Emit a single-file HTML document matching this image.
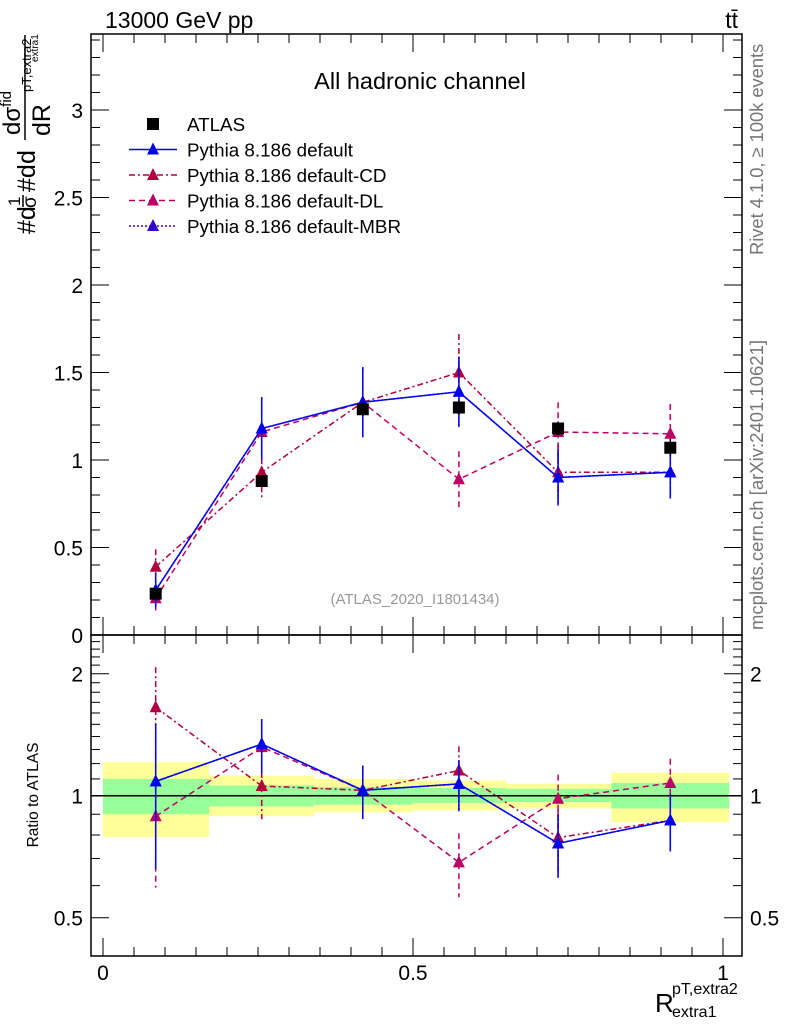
<!DOCTYPE html>
<html><head><meta charset="utf-8"><style>
body{margin:0;background:#fff;}
svg{display:block;font-family:"Liberation Sans",Arial,sans-serif;}
</style></head><body>
<svg id="c" width="786" height="1024" viewBox="0 0 786 1024">
<rect width="786" height="1024" fill="#fff"/>
<text x="105" y="28" font-size="23">13000 GeV pp</text>
<text x="738" y="28" font-size="23" text-anchor="end">tt̄</text>
<text x="420" y="89" font-size="23.5" text-anchor="middle">All hadronic channel</text>
<text x="415" y="604" font-size="15" fill="#999" text-anchor="middle">(ATLAS_2020_I1801434)</text>
<text transform="translate(763,255) rotate(-90)" font-size="18.3" fill="#777">Rivet 4.1.0, ≥ 100k events</text>
<text transform="translate(763,630) rotate(-90)" font-size="18.5" fill="#777">mcplots.cern.ch [arXiv:2401.10621]</text>
<g transform="rotate(-90)">
<text x="-234" y="35" font-size="25">#d</text>
<text x="-206" y="20" font-size="17">1</text>
<line x1="-207" y1="23" x2="-195" y2="23" stroke="#000" stroke-width="1.5"/>
<text x="-208" y="36" font-size="19">σ</text>
<text x="-192" y="35" font-size="25">#d</text>
<text x="-164" y="35" font-size="25">d</text>
<line x1="-140" y1="25" x2="-35" y2="25" stroke="#000" stroke-width="1.5"/>
<text x="-135" y="20" font-size="24">dσ<tspan font-size="15" dy="-9">fid</tspan></text>
<text x="-136" y="50" font-size="25">dR</text>
<text x="-92" y="31" font-size="13">pT,extra2</text>
<text x="-62" y="38" font-size="10">extra1</text>
</g>
<text x="38" y="795" font-size="15.5" text-anchor="middle" transform="rotate(-90 38 795)">Ratio to ATLAS</text>
<g>
<text x="655" y="1012" font-size="26">R</text>
<text x="672" y="994" font-size="16">pT,extra2</text>
<text x="672" y="1017" font-size="16">extra1</text>
</g>
<g id="g"></g>
</svg>
<script>
const xCenters=[0.085,0.256,0.419,0.574,0.734,0.915];
const binEdges=[0,0.171,0.34,0.5,0.65,0.82,1.01];
const atlas=[0.236,0.88,1.29,1.30,1.18,1.07];
const atlasErr=[0.02,0.03,0.04,0.04,0.04,0.05];
const defVals=[0.256,1.18,1.33,1.39,0.90,0.93];
const defErr=[0.1,0.18,0.2,0.2,0.16,0.15];
const cdVals=[0.39,0.93,1.33,1.50,0.93,0.93];
const cdErr=[0.1,0.16,0.2,0.22,0.16,0.15];
const dlVals=[0.21,1.16,1.33,0.89,1.16,1.15];
const dlErr=[0.07,0.18,0.2,0.16,0.17,0.17];
const mbrVals=[0.256,1.18,1.33,1.39,0.90,0.93];
const mbrErr=[0.1,0.18,0.2,0.2,0.16,0.15];
const yellowHi=[1.21,1.12,1.10,1.09,1.07,1.14];
const yellowLo=[0.79,0.89,0.91,0.92,0.93,0.86];
const greenHi=[1.10,1.06,1.05,1.045,1.04,1.075];
const greenLo=[0.90,0.94,0.95,0.96,0.965,0.93];
const mainTicks=[0,0.5,1,1.5,2,2.5,3];
const mainTickLabels=["0","0.5","1","1.5","2","2.5","3"];
const ratioTicks=[0.5,1,2];
const ratioTickLabels=["0.5","1","2"];
const xTicks=[0,0.5,1];
const xTickLabels=["0","0.5","1"];

const L=91,R=742,T=34,M=635,B=956;
const X=v=>103+v*620;
const Y=v=>635-v*175;
const YR=r=>795.7-Math.log2(r)*122;
const NS="http://www.w3.org/2000/svg";
const g=document.getElementById('g');
function el(t,a,p){const e=document.createElementNS(NS,t);for(const k in a)e.setAttribute(k,a[k]);(p||g).appendChild(e);return e;}

for(let i=0;i<6;i++){
 const x0=X(binEdges[i]),x1=X(binEdges[i+1]);
 const y=el('rect',{x:x0,y:YR(yellowHi[i]),width:x1-x0,height:YR(yellowLo[i])-YR(yellowHi[i]),fill:'#ffff99'});
 
 
 const gr=el('rect',{x:x0,y:YR(greenHi[i]),width:x1-x0,height:YR(greenLo[i])-YR(greenHi[i]),fill:'#99ff99'});
 
 
}
el('line',{x1:L,y1:YR(1),x2:R,y2:YR(1),stroke:'#000','stroke-width':1.5});

const f1=el('rect',{x:L,y:T,width:R-L,height:M-T,fill:'none',stroke:'#000','stroke-width':1.5});


const f2=el('rect',{x:L,y:M,width:R-L,height:B-M,fill:'none',stroke:'#000','stroke-width':1.5});



for(let v=0;v<=3.42;v+=0.1){const y=Y(v);if(y<T)break;const maj=Math.abs(v*2-Math.round(v*2))<1e-6;const len=maj?18:9;
 el('line',{x1:L,y1:y,x2:L+len,y2:y,stroke:'#000'});el('line',{x1:R,y1:y,x2:R-len,y2:y,stroke:'#000'});}
mainTicks.forEach((v,i)=>{const t=el('text',{x:L-8,y:Y(v)+8,'font-size':21,'text-anchor':'end'});t.textContent=mainTickLabels[i];
 
 });
for(let k=4;k<=25;k++){const r=k/10;const y=YR(r);if(y<M||y>B)continue;const maj=(k==5||k==10||k==20);const len=maj?18:9;
 el('line',{x1:L,y1:y,x2:L+len,y2:y,stroke:'#000'});el('line',{x1:R,y1:y,x2:R-len,y2:y,stroke:'#000'});}
ratioTicks.forEach((v,i)=>{const t=el('text',{x:L-8,y:YR(v)+8,'font-size':21,'text-anchor':'end'});t.textContent=ratioTickLabels[i];
 
 
 const t2=el('text',{x:R+8,y:YR(v)+8,'font-size':21});t2.textContent=ratioTickLabels[i];
 
 });
for(let k=0;k<=20;k++){const x=X(k*0.05);const maj=k%10==0;const len=maj?18:9;
 [[T,1],[M,-1],[M,1],[B,-1]].forEach(([y0,d])=>el('line',{x1:x,y1:y0,x2:x,y2:y0+d*len,stroke:'#000'}));}
xTicks.forEach((v,i)=>{const t=el('text',{x:X(v),y:980,'font-size':21,'text-anchor':'middle'});t.textContent=xTickLabels[i];
 
 });

function tri(x,y,c,name){const p=el('path',{d:`M${x-6},${y+5}L${x+6},${y+5}L${x},${y-7}Z`,fill:c});
 
 }
function series(vals,errs,c,dash,name){
 const ptsM=vals.map((v,i)=>[X(xCenters[i]),Y(v)]);
 const ptsR=vals.map((v,i)=>[X(xCenters[i]),YR(v/atlas[i])]);
 const lm=el('polyline',{points:ptsM.join(' '),fill:'none',stroke:c,'stroke-width':1.5,'stroke-dasharray':dash});
 
 
 const lr=el('polyline',{points:ptsR.join(' '),fill:'none',stroke:c,'stroke-width':1.5,'stroke-dasharray':dash});
 
 
 vals.forEach((v,i)=>{const x=X(xCenters[i]);
  const e1=el('line',{x1:x,y1:Y(v+errs[i]),x2:x,y2:Y(v-errs[i]),stroke:c,'stroke-width':1.5,'stroke-dasharray':dash});
  
  
  const r=v/atlas[i],re=errs[i]/atlas[i];
  const e2=el('line',{x1:x,y1:YR(r+re),x2:x,y2:YR(Math.max(r-re,0.3)),stroke:c,'stroke-width':1.5,'stroke-dasharray':dash});
  
  
  tri(x,Y(v),c,name+'-point');tri(x,YR(r),c,name+'-ratio-point');});
}
series(mbrVals,mbrErr,'#3300cc','2,2','mbr');
series(dlVals,dlErr,'#bb0066','6,4','dl');
series(cdVals,cdErr,'#b00040','6,3,2,3','cd');
series(defVals,defErr,'#0000ee','','default');
atlas.forEach((v,i)=>{const x=X(xCenters[i]);
 const e=el('line',{x1:x,y1:Y(v+atlasErr[i]),x2:x,y2:Y(v-atlasErr[i]),stroke:'#000','stroke-width':1.5});
 
 
 const s=el('rect',{x:x-6,y:Y(v)-6,width:12,height:12,fill:'#000'});
 
 });

const leg=[['ATLAS','#000',null,'sq'],['Pythia 8.186 default','#0000ee','',''],['Pythia 8.186 default-CD','#b00040','6,3,2,3',''],['Pythia 8.186 default-DL','#bb0066','6,4',''],['Pythia 8.186 default-MBR','#3300cc','2,2','']];
leg.forEach((l,i)=>{const y=124+i*25.5;const lg=el('g',{});
 
 
 if(l[3]=='sq')el('rect',{x:147,y:y-6,width:12,height:12,fill:'#000'},lg);
 else{el('line',{x1:129,y1:y,x2:177,y2:y,stroke:l[1],'stroke-width':1.5,'stroke-dasharray':l[2]},lg);
  el('path',{d:`M147,${y+5}L159,${y+5}L153,${y-7}Z`,fill:l[1]},lg);}
 const t=el('text',{x:187,y:y+7,'font-size':18.8},lg);t.textContent=l[0];});
</script>
</body></html>
